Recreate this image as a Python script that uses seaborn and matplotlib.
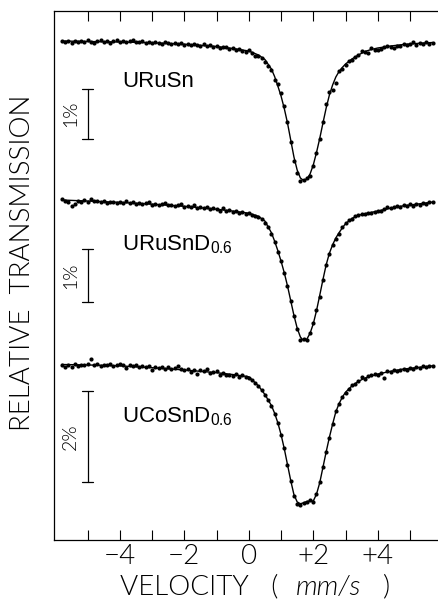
import numpy as np
import pandas as pd
import matplotlib
matplotlib.use("Agg")
import matplotlib.pyplot as plt
import seaborn as sns

# ---------------- data ----------------
samples = ["URuSn", "URuSnD0.6", "UCoSnD0.6"]
sample_labels = ["URuSn", r"URuSnD$_{\mathrm{0.6}}$", r"UCoSnD$_{\mathrm{0.6}}$"]
bar_percent = [1, 1, 2]
bar_texts = ["1%", "1%", "2%"]

VEL_START = -5.8
VEL_STEP = 0.1

# measured relative transmission (%), one value per channel
urusn = [0.01, -0.02, 0.00, -0.03, 0.01, -0.01, 0.00, -0.02, 0.02, -0.01,
         -0.04, 0.00, 0.02, -0.01, 0.01, -0.03, 0.00, 0.03, -0.01, 0.01,
         -0.02, 0.00, 0.02, -0.02, -0.01, 0.00, -0.04, -0.02, -0.03, -0.01,
         -0.03, -0.06, -0.02, -0.04, -0.05, -0.03, -0.06, -0.04, -0.07, -0.05,
         -0.08, -0.06, -0.07, -0.09, -0.06, -0.10, -0.08, -0.11, -0.09, -0.14,
         -0.11, -0.12, -0.16, -0.13, -0.17, -0.15, -0.19, -0.22, -0.18, -0.24,
         -0.29, -0.30, -0.33, -0.42, -0.50, -0.58, -0.78, -0.86, -1.04, -1.30,
         -1.62, -2.02, -2.40, -2.64, -2.80, -2.77, -2.74, -2.70, -2.50, -2.24,
         -1.96, -1.62, -1.26, -1.02, -0.98, -0.84, -0.60, -0.56, -0.48, -0.40,
         -0.38, -0.32, -0.28, -0.20, -0.22, -0.23, -0.14, -0.18, -0.18, -0.16,
         -0.12, -0.10, -0.11, -0.13, -0.09, -0.10, -0.06, -0.08, -0.06, -0.02,
         -0.07, -0.04, -0.05, -0.01, -0.05, -0.03]
urusnd = [0.02, -0.01, -0.04, -0.12, -0.07, -0.02, -0.04, 0.00, -0.03, 0.01,
          -0.02, -0.01, -0.04, -0.02, -0.05, -0.03, -0.04, -0.06, -0.03, -0.05,
          -0.01, -0.06, -0.04, -0.07, -0.05, -0.08, -0.06, -0.04, -0.09, -0.07,
          -0.10, -0.08, -0.06, -0.10, -0.09, -0.12, -0.10, -0.08, -0.13, -0.11,
          -0.14, -0.09, -0.15, -0.13, -0.16, -0.14, -0.17, -0.15, -0.18, -0.20,
          -0.16, -0.21, -0.19, -0.23, -0.20, -0.24, -0.22, -0.26, -0.25, -0.29,
          -0.31, -0.33, -0.37, -0.44, -0.52, -0.64, -0.80, -0.98, -1.16, -1.38,
          -1.64, -1.92, -2.20, -2.45, -2.66, -2.64, -2.65, -2.52, -2.34, -2.08,
          -1.84, -1.52, -1.24, -1.02, -0.86, -0.74, -0.64, -0.52, -0.44, -0.38,
          -0.36, -0.30, -0.28, -0.27, -0.26, -0.24, -0.25, -0.22, -0.21, -0.20,
          -0.18, -0.13, -0.16, -0.14, -0.12, -0.13, -0.10, -0.11, -0.08, -0.12,
          -0.07, -0.09, -0.05, -0.07, -0.04, -0.03]
ucosnd = [0.00, -0.06, -0.02, -0.05, 0.01, -0.03, 0.00, -0.02, 0.02, 0.12,
          -0.01, 0.01, -0.03, 0.00, -0.02, 0.01, -0.04, -0.01, 0.02, -0.02,
          -0.08, 0.00, -0.03, -0.01, -0.05, -0.03, -0.06, -0.04, -0.11, -0.05,
          -0.08, -0.05, -0.09, -0.06, -0.10, -0.07, -0.04, -0.10, -0.12, -0.10,
          -0.17, -0.13, -0.20, -0.12, -0.15, -0.10, -0.19, -0.16, -0.15, -0.24,
          -0.19, -0.22, -0.23, -0.25, -0.21, -0.28, -0.24, -0.27, -0.29, -0.35,
          -0.41, -0.47, -0.57, -0.66, -0.78, -0.92, -1.08, -1.28, -1.54, -1.84,
          -2.20, -2.56, -2.90, -3.06, -3.08, -3.04, -3.03, -2.98, -3.02, -2.84,
          -2.58, -2.26, -1.92, -1.62, -1.30, -1.02, -0.86, -0.72, -0.62, -0.54,
          -0.46, -0.42, -0.36, -0.28, -0.31, -0.26, -0.24, -0.20, -0.22, -0.18,
          -0.30, -0.15, -0.17, -0.13, -0.15, -0.11, -0.10, -0.12, -0.08, -0.09,
          -0.06, -0.07, -0.04, -0.06, -0.03, -0.04]

# fitted curves (%)
fit_vel = [-5.8, -5.0, -4.0, -3.0, -2.0, -1.0, -0.5, 0.0, 0.3, 0.5,
           0.7, 0.8, 0.9, 1.0, 1.1, 1.2, 1.3, 1.4, 1.5, 1.6,
           1.7, 1.8, 1.9, 2.0, 2.1, 2.2, 2.3, 2.4, 2.5, 2.6,
           2.7, 2.8, 2.9, 3.0, 3.2, 3.4, 3.6, 3.8, 4.0, 4.4,
           4.8, 5.2, 5.7]
fit_urusn = [0.00, -0.01, -0.02, -0.035, -0.065, -0.11, -0.15, -0.20, -0.28, -0.37,
             -0.56, -0.71, -0.90, -1.10, -1.35, -1.64, -1.98, -2.32, -2.58, -2.74,
             -2.79, -2.76, -2.66, -2.48, -2.23, -1.95, -1.64, -1.34, -1.08, -0.88,
             -0.72, -0.61, -0.53, -0.46, -0.36, -0.28, -0.21, -0.17, -0.14, -0.10,
             -0.07, -0.05, -0.03]
fit_urusnd = [0.00, -0.02, -0.045, -0.08, -0.12, -0.175, -0.21, -0.25, -0.31, -0.40,
              -0.62, -0.78, -0.96, -1.16, -1.38, -1.63, -1.91, -2.19, -2.43, -2.60,
              -2.67, -2.64, -2.53, -2.35, -2.10, -1.81, -1.51, -1.23, -1.01, -0.85,
              -0.72, -0.62, -0.53, -0.45, -0.35, -0.29, -0.26, -0.235, -0.21, -0.155,
              -0.11, -0.08, -0.04]
fit_ucosnd = [0.00, -0.01, -0.03, -0.07, -0.12, -0.18, -0.22, -0.27, -0.47, -0.66,
              -0.90, -1.07, -1.28, -1.54, -1.85, -2.20, -2.55, -2.86, -3.02, -3.06,
              -3.04, -3.01, -3.00, -3.00, -2.85, -2.60, -2.26, -1.92, -1.60, -1.31,
              -1.04, -0.86, -0.72, -0.61, -0.47, -0.37, -0.30, -0.25, -0.21, -0.15,
              -0.10, -0.07, -0.03]

xtick_values = [-5, -4, -3, -2, -1, 0, 1, 2, 3, 4, 5]
xtick_labels = ["", "\u22124", "", "\u22122", "", "0", "", "+2", "", "+4", ""]

# ---------------- layout (stacking offsets / scales in axis units) ----------------
offsets = [499.0, 340.0, 175.5]        # baseline of each spectrum
scales = [50.0, 52.7, 45.5]            # axis units per 1 %
bar_tops = [451.0, 291.0, 148.7]
label_baselines = [452.7, 290.0, 118.0]

measured = [urusn, urusnd, ucosnd]
fits = [fit_urusn, fit_urusnd, fit_ucosnd]

rows = []
for name, vals, off, sc in zip(samples, measured, offsets, scales):
    vel = VEL_START + VEL_STEP * np.arange(len(vals))
    for v, t in zip(vel, vals):
        rows.append((name, round(v, 3), t, off + t * sc))
df = pd.DataFrame(rows, columns=["sample", "velocity", "trans", "y"])

frows = []
for name, vals, off, sc in zip(samples, fits, offsets, scales):
    for v, t in zip(fit_vel, vals):
        frows.append((name, v, t, off + t * sc))
fdf = pd.DataFrame(frows, columns=["sample", "velocity", "trans", "y"])

# ---------------- plot ----------------
sns.set_style("white")
plt.rcParams["font.family"] = ["Lato", "DejaVu Sans"]
plt.rcParams["text.color"] = "black"
plt.rcParams["xtick.color"] = "black"
plt.rcParams["mathtext.fontset"] = "custom"
plt.rcParams["mathtext.rm"] = "Liberation Sans"

THIN = 300

fig = plt.figure(figsize=(4.38, 6.01), dpi=100)
ax = fig.add_axes([54 / 438, 61 / 601, 384 / 438, 529 / 601])

sns.lineplot(data=fdf, x="velocity", y="y", units="sample", estimator=None,
             sort=False, color="black", lw=1.0, ax=ax, legend=False)
sns.scatterplot(data=df, x="velocity", y="y", color="black", s=9,
                marker="o", linewidth=0, ax=ax, legend=False)

ax.set_xlim(-6.045, 5.87)
ax.set_ylim(0, 529)

# scale bars and labels
bar_x = -5.0
cap = 0.17
for top, pct, sc, txt, name_lbl, base in zip(bar_tops, bar_percent, scales,
                                             bar_texts, sample_labels, label_baselines):
    bottom = top - pct * sc
    ax.plot([bar_x, bar_x], [bottom, top], color="black", lw=0.9)
    ax.plot([bar_x - cap, bar_x + cap], [top, top], color="black", lw=0.9)
    ax.plot([bar_x - cap, bar_x + cap], [bottom, bottom], color="black", lw=0.9)
    ax.text(-5.53, (top + bottom) / 2, txt, rotation=90, ha="center", va="center",
            fontsize=14, fontweight=THIN, color="black",
            family=["Lato", "DejaVu Sans"])
    ax.text(-3.93, base, name_lbl, ha="left", va="baseline", fontsize=16,
            color="black", family=["Liberation Sans", "DejaVu Sans"])

# axes styling
ax.spines["right"].set_visible(False)
for side in ["left", "top", "bottom"]:
    ax.spines[side].set_linewidth(0.9)
    ax.spines[side].set_color("black")

ax.set_xticks(xtick_values)
ax.set_xticklabels(xtick_labels)
ax.set_yticks([])
ax.tick_params(axis="x", which="major", direction="in", length=7.5, width=0.8,
               top=True, bottom=True, labeltop=False, pad=3, labelsize=20,
               colors="black")
for lbl in ax.get_xticklabels():
    lbl.set_fontweight(THIN)
ax.set_xlabel("")
ax.set_ylabel("")

# x axis title in three pieces (unit in italics)
ylab = 1 - 587 / 601
fig.text(278 / 438, ylab, "VELOCITY   (", ha="right", va="center",
         fontsize=20, fontweight=THIN, color="black")
fig.text(329 / 438, ylab, "mm/s", ha="center", va="center",
         fontsize=20, fontweight=THIN, style="italic", color="black")
fig.text(387 / 438, ylab, ")", ha="center", va="center",
         fontsize=20, fontweight=THIN, color="black")
fig.text(23 / 438, 1 - 263 / 601, "RELATIVE  TRANSMISSION", rotation=90,
         ha="center", va="center", fontsize=20, fontweight=THIN, color="black")

fig.savefig("out.png", dpi=100)
